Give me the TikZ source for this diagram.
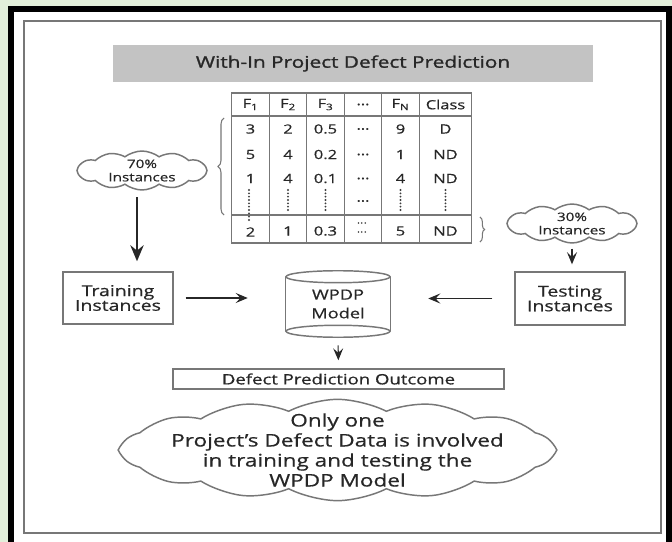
\documentclass[tikz,border=0pt]{standalone}
\usepackage{fontspec}
\setmainfont{Open Sans}[FakeStretch=1.3,FakeBold=0.6]
\newfontfamily\titlefont{Open Sans}[FakeStretch=1.3,FakeBold=1.4]
\usetikzlibrary{arrows.meta,shapes.symbols,decorations.pathreplacing}
\definecolor{pagegreen}{HTML}{E2EFDA}
\definecolor{ink}{HTML}{272727}
\definecolor{edge}{HTML}{777777}
\definecolor{barfill}{HTML}{C3C3C3}
\begin{document}
\begin{tikzpicture}[x=0.75pt,y=-0.75pt,
  every node/.style={text=ink, inner sep=0pt},
  boxline/.style={draw=edge, line width=1.1pt},
  plainbox/.style={boxline, rectangle, align=center},
  puff/.style={boxline, cloud, cloud ignores aspect, cloud puffs=#1, cloud puff arc=75},
  flow/.style={draw=ink, line width=0.8pt, -{Stealth[length=9pt,width=7.5pt,inset=3.5pt]}},
  bigflow/.style={draw=ink, line width=1.8pt, -{Stealth[length=12pt,width=10pt,inset=4pt]}},
  cell/.style={font=\fontsize{9.5pt}{11pt}\selectfont},
  dotcol/.style={draw=ink!90, line width=1.6pt, line cap=round, dash pattern=on 0pt off 2.5pt},
  brc/.style={draw=edge, line width=0.8pt, decorate}]
\useasboundingbox (0,0) rectangle (672,542);
% page background and frames
\fill[pagegreen] (0,0) rectangle (672,542);
\begin{scope}
\clip (0,0) rectangle (672,542);
\draw[black, line width=4.5pt, fill=white] (11,9) rectangle (668.5,600);
\end{scope}
\draw[edge, line width=1.5pt] (24,21) rectangle (661,533);

% heading bar
\node[fill=barfill, minimum width=360pt, minimum height=27.75pt,
      font=\titlefont\fontsize{12pt}{13pt}\selectfont] (title) at (353,63.5)
      {With-In Project Defect Prediction};

% data table
\draw[edge, line width=1.1pt] (231.7,93) rectangle (471.7,243);
\foreach \x in {269.3,306.7,344.3,381.7,419.3}
  \draw[edge, line width=1.1pt] (\x,93) -- (\x,243);
\foreach \y in {116,215}
  \draw[edge, line width=1.1pt] (231.7,\y) -- (471.7,\y);
\foreach \cx/\txt [count=\i] in {250.5/F\textsubscript{1},288/F\textsubscript{2},325.5/F\textsubscript{3},
    363/\dots,400.5/F\textsubscript{N},445.5/Class}
  \node[cell] (h\i) at (\cx,104.5) {\txt};
\foreach \ry/\a/\b/\cc/\e/\f [count=\r] in {129/3/2/0.5/9/D,154.5/5/4/0.2/1/ND,178.5/1/4/0.1/4/ND}{
  \node[cell] (r\r c1) at (250.5,\ry) {\a};
  \node[cell] (r\r c2) at (288,\ry) {\b};
  \node[cell] (r\r c3) at (325.5,\ry) {\cc};
  \node[cell] (r\r c4) at (363,\ry) {\dots};
  \node[cell] (r\r c5) at (400.5,\ry) {\e};
  \node[cell] (r\r c6) at (445.5,\ry) {\f};
}
% elided rows
\draw[dotcol] (249,190) -- (249,222);
\draw[dotcol] (288,190) -- (288,212);
\draw[dotcol] (325.5,190) -- (325.5,210);
\draw[dotcol] (400.5,190) -- (400.5,212);
\draw[dotcol] (445.5,190) -- (445.5,212);
\node[cell] (r4c4) at (363,201) {\dots};
% last row
\node[cell] (r5c1) at (250.5,232) {2};
\node[cell] (r5c2) at (288,231) {1};
\node[cell] (r5c3) at (325.5,231) {0.3};
\draw[dotcol, line width=1.3pt] (358.5,223) -- (367.5,223);
\draw[dotcol, line width=1.3pt] (358.5,232) -- (367.5,232);
\node[cell] (r5c5) at (400.5,231) {5};
\node[cell] (r5c6) at (445.5,231) {ND};
% braces grouping the rows
\draw[brc, decoration={brace, amplitude=4.5pt}] (224,215) -- (224,118);
\draw[brc, decoration={brace, amplitude=3.5pt}] (480,217) -- (480,242);

% split clouds
\node[puff=12, minimum width=97.5pt, minimum height=29.25pt] (c70) at (142,170.5) {};
\node[align=center, font=\fontsize{8.8pt}{10pt}\selectfont] (t70) at (c70.center) {70\%\\Instances};
\node[puff=12, minimum width=97.5pt, minimum height=29.25pt] (c30) at (572,223.5) {};
\node[align=center, font=\fontsize{8.8pt}{10pt}\selectfont] (t30) at (c30.center) {30\%\\Instances};

% instance boxes
\node[plainbox, minimum width=82.5pt, minimum height=39pt,
      font=\fontsize{11.25pt}{11pt}\selectfont] (train) at (118,298) {Training\\Instances};
\node[plainbox, minimum width=82.5pt, minimum height=39.75pt,
      font=\fontsize{11.25pt}{11pt}\selectfont] (test) at (570,298.5) {Testing\\Instances};

% model cylinder
\node[minimum width=78pt, minimum height=49.5pt, align=center,
      font=\fontsize{10.5pt}{14pt}\selectfont] (wpdp) at (338,304) {WPDP\\Model};
\draw[boxline] ([yshift=-4.5pt]wpdp.north) ellipse [x radius=39pt, y radius=4.5pt];
\draw[boxline] ([yshift=4.5pt]wpdp.south) ellipse [x radius=39pt, y radius=4.5pt];
\draw[boxline] ([yshift=-4.5pt]wpdp.north west) -- ([yshift=4.5pt]wpdp.south west);
\draw[boxline] ([yshift=-4.5pt]wpdp.north east) -- ([yshift=4.5pt]wpdp.south east);

% outcome box
\node[plainbox, minimum width=248.25pt, minimum height=15pt,
      font=\fontsize{10.7pt}{10pt}\selectfont] (outcome) at (338.5,379) {Defect Prediction Outcome};

% note cloud
\node[puff=14, cloud puff arc=55, minimum width=324pt, minimum height=76pt] (cbig) at (337.5,450) {};
\node[align=center, font=\fontsize{13pt}{15pt}\selectfont] (tbig) at (cbig.center)
  {Only one\\Project’s Defect Data is involved\\in training and testing the\\WPDP Model};

% connectors
\draw[bigflow, shorten <=5pt, shorten >=7.5pt]
  ([xshift=-3.75pt]c70.south) -- ([xshift=-3.75pt]c70.south |- train.north);
\draw[flow, shorten <=3.75pt, shorten >=5.25pt] (c30.south) -- (c30.south |- test.north);
\draw[flow, shorten <=9pt, shorten >=28.5pt] (train.east) -- (train.east -| wpdp.west);
\draw[flow, shorten <=16.5pt, shorten >=28.5pt] (test.west) -- (test.west -| wpdp.east);
\draw[flow, shorten <=6pt, shorten >=6pt] (wpdp.south) -- (outcome.north);
\end{tikzpicture}
\end{document}
